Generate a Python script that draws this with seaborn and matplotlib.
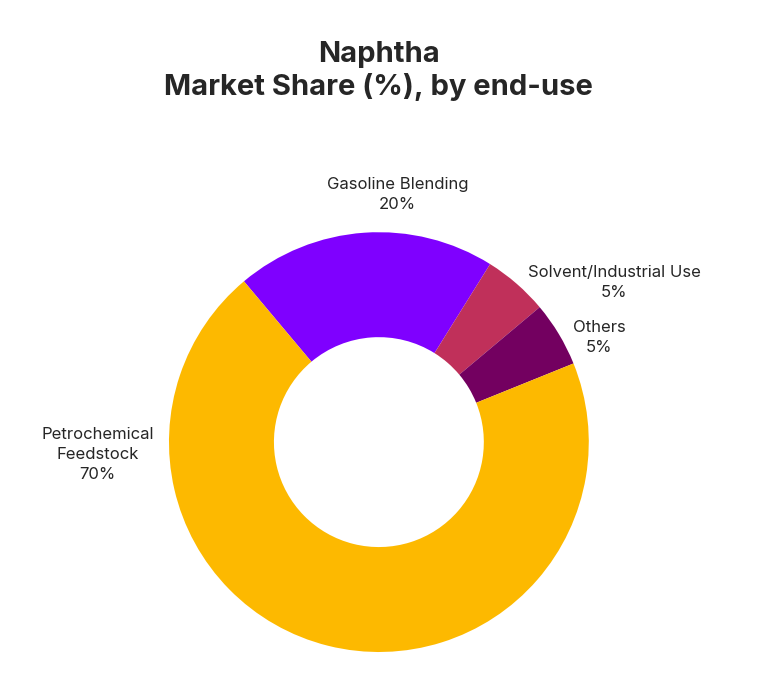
import matplotlib
matplotlib.use("Agg")
import matplotlib.pyplot as plt
import seaborn as sns

sns.set_style("white")
plt.rcParams['font.family'] = ['Inter', 'DejaVu Sans']

segments = ["Gasoline Blending", "Solvent/Industrial Use", "Others", "Petrochemical\nFeedstock"]
shares = [20, 5, 5, 70]
colors = ["#7F00FF", "#C0305A", "#730060", "#FDB900"]
# label anchor positions (in units of the outer radius)
label_pos = [(0.09, 1.18), (1.12, 0.76), (1.05, 0.50), (-1.34, -0.06)]

fig = plt.figure(figsize=(7.57, 6.76), dpi=100)
ax = fig.add_axes([0.223, 0.0355, 0.555, 0.621])

ax.pie(shares, colors=colors, startangle=130, counterclock=False, radius=1,
       wedgeprops=dict(width=0.5, edgecolor="none"))
ax.set_xlim(-1, 1)
ax.set_ylim(-1, 1)
ax.set_aspect("equal")
ax.axis("off")

for name, val, (x, y) in zip(segments, shares, label_pos):
    ax.text(x, y, f"{name}\n{val}%", ha="center", va="center", fontsize=12,
            linespacing=1.4, clip_on=False)

fig.text(0.5, 0.895, "Naphtha\nMarket Share (%), by end-use", ha="center", va="center",
         fontsize=21, fontweight="bold", linespacing=1.25)

fig.savefig("out.png", dpi=100, facecolor="white")
